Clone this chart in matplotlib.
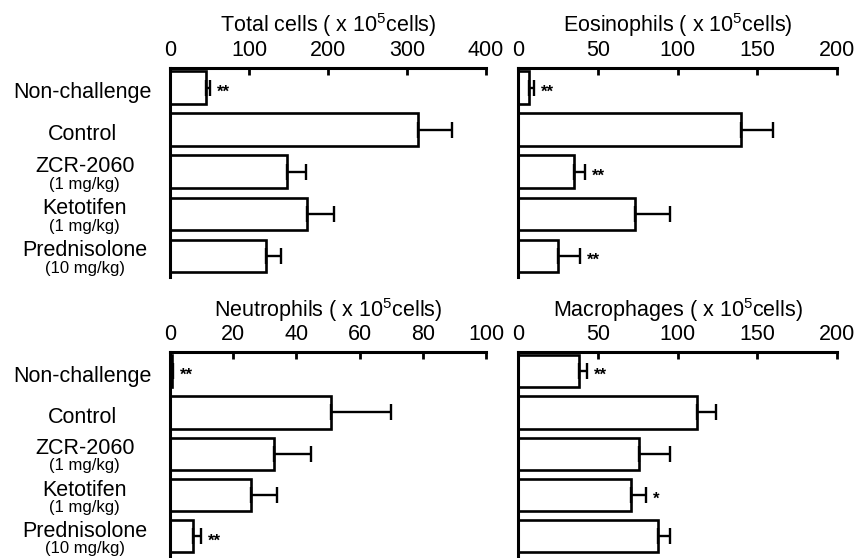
import numpy as np
import matplotlib
matplotlib.use('Agg')
from matplotlib import pyplot as plt
from matplotlib import transforms

plt.rcParams['font.family'] = ['Liberation Sans', 'DejaVu Sans']
plt.rcParams['mathtext.fontset'] = 'custom'
plt.rcParams['mathtext.rm'] = 'Liberation Sans'
plt.rcParams['mathtext.it'] = 'Liberation Sans:italic'

groups = ['Non-challenge', 'Control', 'ZCR-2060', 'Ketotifen', 'Prednisolone']
doses = ['', '', '(1 mg/kg)', '(1 mg/kg)', '(10 mg/kg)']

total_mean = [45, 314, 148, 174, 122]
total_err = [6, 43, 24, 33, 19]
total_sig = ['**', '', '', '', '']

eos_mean = [7, 140, 35, 73, 25]
eos_err = [3, 20, 7, 22, 14]
eos_sig = ['**', '', '**', '', '**']

neut_mean = [0.5, 51, 33, 25.5, 7.2]
neut_err = [0.3, 19, 11.5, 8.5, 2.5]
neut_sig = ['**', '', '', '', '**']

mac_mean = [38, 112, 75.5, 70.5, 87.5]
mac_err = [5, 12, 20, 10, 7.5]
mac_sig = ['**', '', '', '*', '']

panels = [
    ('Total cells', total_mean, total_err, total_sig, 400, 100, [0.1984, 0.5036, 0.3687, 0.3746]),
    ('Eosinophils', eos_mean, eos_err, eos_sig, 200, 50, [0.6048, 0.5036, 0.3715, 0.3746]),
    ('Neutrophils', neut_mean, neut_err, neut_sig, 100, 20, [0.1984, 0.0018, 0.3687, 0.3679]),
    ('Macrophages', mac_mean, mac_err, mac_sig, 200, 50, [0.6048, 0.0018, 0.3715, 0.3679]),
]

fig = plt.figure(figsize=(8.57, 5.58), dpi=100)

for title, mean, err, sig, xmax, step, rect in panels:
    ax = fig.add_axes(rect)
    y = np.arange(len(groups))
    ax.barh(y, mean, height=0.78, color='white', edgecolor='black', linewidth=1.9)
    ax.errorbar(mean, y, xerr=[np.zeros(len(err)), err], fmt='none', ecolor='black',
                elinewidth=1.7, capsize=6, capthick=1.7)
    ax.set_xlim(0, xmax)
    ax.set_ylim(4.5, -0.47)
    ax.xaxis.tick_top()
    ax.set_xticks(np.arange(0, xmax + 1, step))
    ax.tick_params(axis='x', direction='in', length=5, width=2, pad=5, labelsize=15.5)
    ax.set_yticks([])
    for s in ['right', 'bottom']:
        ax.spines[s].set_visible(False)
    for s in ['left', 'top']:
        ax.spines[s].set_linewidth(2.2)
    ax.text(0.5, 1.205, title + r' ( x 10$^{5}$cells)', transform=ax.transAxes,
            ha='center', va='center', fontsize=15.5)

    for i in range(len(groups)):
        if sig[i]:
            ax.annotate(sig[i], (mean[i] + err[i], i), xytext=(5, -6.5),
                        textcoords='offset points', ha='left', va='baseline',
                        fontsize=12, fontweight='bold')

    # group labels only on the left column
    if rect[0] < 0.5:
        tr = transforms.blended_transform_factory(fig.transFigure, ax.transData)
        for i in range(len(groups)):
            if doses[i]:
                ax.text(0.099, i - 0.12, groups[i], transform=tr, ha='center',
                        va='center', fontsize=15.5)
                ax.text(0.099, i + 0.29, doses[i], transform=tr, ha='center',
                        va='center', fontsize=12)
            else:
                ax.text(0.096, i + 0.12, groups[i], transform=tr, ha='center',
                        va='center', fontsize=15.5)

fig.savefig('out.png', dpi=100)
